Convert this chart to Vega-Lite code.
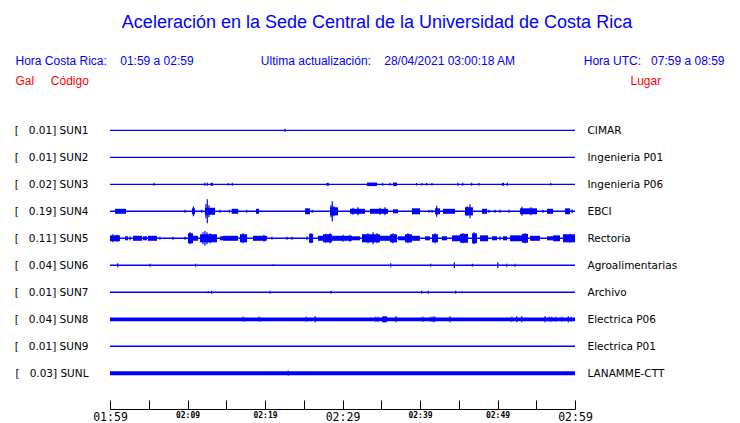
{
  "$schema": "https://vega.github.io/schema/vega-lite/v6.json",
  "width": 465,
  "height": 297,
  "autosize": {"type": "none"},
  "padding": {"left": 110, "top": 103.3, "right": 165, "bottom": 22.7},
  "background": "white",
  "title": {
    "text": "Aceleración en la Sede Central de la Universidad de Costa Rica",
    "font": "Liberation Sans",
    "fontSize": 18,
    "fontWeight": "normal",
    "color": "#0000ff",
    "anchor": "middle",
    "frame": "group",
    "dx": 34.5,
    "offset": 22
  },
  "config": {"view": {"stroke": null}, "axis": {"grid": false}},
  "resolve": {"axis": {"x": "independent", "y": "independent"}},
  "layer": [
    {
      "data": {
        "format": {"parse": {"t": "date:'%H:%M:%S'", "t2": "date:'%H:%M:%S'"}},
        "values": [
          {"s": "SUN1", "t": "01:59:00", "t2": "02:59:00", "amp": 5},
          {"s": "SUN2", "t": "01:59:00", "t2": "02:59:00", "amp": 5},
          {"s": "SUN3", "t": "01:59:00", "t2": "02:59:00", "amp": 5},
          {"s": "SUN4", "t": "01:59:00", "t2": "02:59:00", "amp": 5.5},
          {"s": "SUN5", "t": "01:59:00", "t2": "02:59:00", "amp": 5.5},
          {"s": "SUN6", "t": "01:59:00", "t2": "02:59:00", "amp": 5},
          {"s": "SUN7", "t": "01:59:00", "t2": "02:59:00", "amp": 5},
          {"s": "SUN8", "t": "01:59:00", "t2": "02:59:00", "amp": 14},
          {"s": "SUN9", "t": "01:59:00", "t2": "02:59:00", "amp": 5},
          {"s": "SUNL", "t": "01:59:00", "t2": "02:59:00", "amp": 15},
          {"s": "SUN3", "t": "02:11:58", "t2": "02:12:17", "amp": 11},
          {"s": "SUN3", "t": "02:26:56", "t2": "02:27:15", "amp": 11},
          {"s": "SUN3", "t": "02:32:10", "t2": "02:33:27", "amp": 13},
          {"s": "SUN3", "t": "02:35:31", "t2": "02:36:02", "amp": 13},
          {"s": "SUN3", "t": "02:49:35", "t2": "02:49:50", "amp": 11},
          {"s": "SUN4", "t": "01:59:39", "t2": "02:01:04", "amp": 18.5},
          {"s": "SUN4", "t": "02:09:35", "t2": "02:09:58", "amp": 22},
          {"s": "SUN4", "t": "02:11:15", "t2": "02:12:33", "amp": 26},
          {"s": "SUN4", "t": "02:14:42", "t2": "02:15:33", "amp": 18.5},
          {"s": "SUN4", "t": "02:17:50", "t2": "02:18:14", "amp": 18.5},
          {"s": "SUN4", "t": "02:24:10", "t2": "02:24:48", "amp": 22},
          {"s": "SUN4", "t": "02:27:23", "t2": "02:28:25", "amp": 30},
          {"s": "SUN4", "t": "02:29:58", "t2": "02:31:54", "amp": 18.5},
          {"s": "SUN4", "t": "02:32:33", "t2": "02:34:52", "amp": 18.5},
          {"s": "SUN4", "t": "02:35:31", "t2": "02:36:10", "amp": 15},
          {"s": "SUN4", "t": "02:37:58", "t2": "02:39:00", "amp": 22},
          {"s": "SUN4", "t": "02:40:56", "t2": "02:41:35", "amp": 22},
          {"s": "SUN4", "t": "02:41:58", "t2": "02:43:31", "amp": 18.5},
          {"s": "SUN4", "t": "02:44:48", "t2": "02:45:50", "amp": 30},
          {"s": "SUN4", "t": "02:47:00", "t2": "02:47:39", "amp": 18.5},
          {"s": "SUN4", "t": "02:51:54", "t2": "02:54:06", "amp": 22},
          {"s": "SUN4", "t": "02:55:23", "t2": "02:56:10", "amp": 18.5},
          {"s": "SUN4", "t": "02:57:43", "t2": "02:58:21", "amp": 22},
          {"s": "SUN5", "t": "01:59:00", "t2": "02:00:17", "amp": 22},
          {"s": "SUN5", "t": "02:00:56", "t2": "02:01:19", "amp": 15},
          {"s": "SUN5", "t": "02:01:58", "t2": "02:03:08", "amp": 18.5},
          {"s": "SUN5", "t": "02:03:15", "t2": "02:03:46", "amp": 15},
          {"s": "SUN5", "t": "02:03:54", "t2": "02:05:04", "amp": 18.5},
          {"s": "SUN5", "t": "02:09:04", "t2": "02:09:43", "amp": 37},
          {"s": "SUN5", "t": "02:09:43", "t2": "02:10:21", "amp": 18.5},
          {"s": "SUN5", "t": "02:10:37", "t2": "02:12:48", "amp": 30},
          {"s": "SUN5", "t": "02:13:12", "t2": "02:13:35", "amp": 15},
          {"s": "SUN5", "t": "02:13:35", "t2": "02:15:31", "amp": 18.5},
          {"s": "SUN5", "t": "02:15:46", "t2": "02:16:41", "amp": 30},
          {"s": "SUN5", "t": "02:17:27", "t2": "02:19:15", "amp": 18.5},
          {"s": "SUN5", "t": "02:24:41", "t2": "02:25:12", "amp": 33},
          {"s": "SUN5", "t": "02:25:50", "t2": "02:26:29", "amp": 18.5},
          {"s": "SUN5", "t": "02:26:29", "t2": "02:27:39", "amp": 30},
          {"s": "SUN5", "t": "02:27:39", "t2": "02:29:19", "amp": 18.5},
          {"s": "SUN5", "t": "02:29:19", "t2": "02:30:14", "amp": 18.5},
          {"s": "SUN5", "t": "02:30:14", "t2": "02:31:15", "amp": 15},
          {"s": "SUN5", "t": "02:31:31", "t2": "02:33:50", "amp": 30},
          {"s": "SUN5", "t": "02:33:50", "t2": "02:35:08", "amp": 18.5},
          {"s": "SUN5", "t": "02:35:08", "t2": "02:36:02", "amp": 30},
          {"s": "SUN5", "t": "02:36:10", "t2": "02:37:19", "amp": 15},
          {"s": "SUN5", "t": "02:37:04", "t2": "02:37:58", "amp": 30},
          {"s": "SUN5", "t": "02:37:58", "t2": "02:39:00", "amp": 18.5},
          {"s": "SUN5", "t": "02:39:39", "t2": "02:40:17", "amp": 15},
          {"s": "SUN5", "t": "02:40:33", "t2": "02:41:19", "amp": 30},
          {"s": "SUN5", "t": "02:41:50", "t2": "02:42:29", "amp": 15},
          {"s": "SUN5", "t": "02:43:08", "t2": "02:44:10", "amp": 22},
          {"s": "SUN5", "t": "02:44:10", "t2": "02:45:12", "amp": 33},
          {"s": "SUN5", "t": "02:45:43", "t2": "02:46:21", "amp": 37},
          {"s": "SUN5", "t": "02:46:45", "t2": "02:47:47", "amp": 22},
          {"s": "SUN5", "t": "02:48:17", "t2": "02:48:56", "amp": 15},
          {"s": "SUN5", "t": "02:49:43", "t2": "02:50:14", "amp": 15},
          {"s": "SUN5", "t": "02:50:37", "t2": "02:52:10", "amp": 22},
          {"s": "SUN5", "t": "02:52:10", "t2": "02:52:56", "amp": 33},
          {"s": "SUN5", "t": "02:53:12", "t2": "02:54:29", "amp": 18.5},
          {"s": "SUN5", "t": "02:55:23", "t2": "02:56:10", "amp": 15},
          {"s": "SUN5", "t": "02:56:10", "t2": "02:57:04", "amp": 22},
          {"s": "SUN5", "t": "02:57:27", "t2": "02:59:00", "amp": 30},
          {"s": "SUN8", "t": "02:34:06", "t2": "02:34:45", "amp": 22}
        ]
      },
      "mark": {"type": "rule", "color": "#0000ff", "strokeCap": "butt"},
      "encoding": {
        "x": {
          "field": "t",
          "type": "temporal",
          "scale": {
            "domain": [
              {"year": 1900, "month": 1, "date": 1, "hours": 1, "minutes": 59},
              {"year": 1900, "month": 1, "date": 1, "hours": 2, "minutes": 59}
            ],
            "nice": false
          },
          "axis": {
            "orient": "bottom",
            "offset": 8.7,
            "values": [
              {"year": 1900, "month": 1, "date": 1, "hours": 1, "minutes": 59},
              {"year": 1900, "month": 1, "date": 1, "hours": 2, "minutes": 4},
              {"year": 1900, "month": 1, "date": 1, "hours": 2, "minutes": 9},
              {"year": 1900, "month": 1, "date": 1, "hours": 2, "minutes": 14},
              {"year": 1900, "month": 1, "date": 1, "hours": 2, "minutes": 19},
              {"year": 1900, "month": 1, "date": 1, "hours": 2, "minutes": 24},
              {"year": 1900, "month": 1, "date": 1, "hours": 2, "minutes": 29},
              {"year": 1900, "month": 1, "date": 1, "hours": 2, "minutes": 34},
              {"year": 1900, "month": 1, "date": 1, "hours": 2, "minutes": 39},
              {"year": 1900, "month": 1, "date": 1, "hours": 2, "minutes": 44},
              {"year": 1900, "month": 1, "date": 1, "hours": 2, "minutes": 49},
              {"year": 1900, "month": 1, "date": 1, "hours": 2, "minutes": 54},
              {"year": 1900, "month": 1, "date": 1, "hours": 2, "minutes": 59}
            ],
            "labelExpr": "minutes(datum.value) % 10 == 9 ? timeFormat(datum.value, '%H:%M') : ''",
            "labelFont": "DejaVu Sans Mono",
            "labelFontSize": {"condition": {"test": "minutes(datum.value) % 30 == 29", "value": 11.5}, "value": 8},
            "labelFontWeight": {"condition": {"test": "minutes(datum.value) % 30 == 29", "value": "normal"}, "value": "bold"},
            "labelColor": "black",
            "labelFlush": false,
            "labelOverlap": false,
            "labelBound": false,
            "labelAngle": 0,
            "labelBaseline": "top",
            "labelPadding": 11,
            "tickSize": -9,
            "tickColor": "black",
            "tickWidth": 1,
            "domainColor": "black",
            "domainWidth": 1,
            "grid": false,
            "title": "Lugar",
            "titleFont": "Liberation Sans",
            "titleFontSize": 12,
            "titleFontWeight": "normal",
            "titleColor": "#ff0000",
            "titleAngle": 0,
            "titleAlign": "left",
            "titleBaseline": "alphabetic",
            "titleX": 520,
            "titleY": -324.7
          }
        },
        "x2": {"field": "t2"},
        "y": {
          "field": "s",
          "type": "nominal",
          "scale": {
            "type": "point",
            "padding": 1,
            "domain": ["SUN1", "SUN2", "SUN3", "SUN4", "SUN5", "SUN6", "SUN7", "SUN8", "SUN9", "SUNL"]
          },
          "axis": {
            "orient": "left",
            "domain": false,
            "ticks": false,
            "tickSize": 0,
            "labelPadding": 22,
            "labelAlign": "right",
            "labelBaseline": "middle",
            "labelFont": "DejaVu Sans",
            "labelFontSize": 10.5,
            "labelColor": "black",
            "labelExpr": "['[\u00a0\u00a0\u00a00.01] SUN1','[\u00a0\u00a0\u00a00.01] SUN2','[\u00a0\u00a0\u00a00.02] SUN3','[\u00a0\u00a0\u00a00.19] SUN4','[\u00a0\u00a0\u00a00.11] SUN5','[\u00a0\u00a0\u00a00.04] SUN6','[\u00a0\u00a0\u00a00.01] SUN7','[\u00a0\u00a0\u00a00.04] SUN8','[\u00a0\u00a0\u00a00.01] SUN9','[\u00a0\u00a0\u00a00.03] SUNL'][indexof(['SUN1','SUN2','SUN3','SUN4','SUN5','SUN6','SUN7','SUN8','SUN9','SUNL'], datum.value)]",
            "title": "Hora Costa Rica:\u00a0\u00a0\u00a0\u00a001:59 a 02:59",
            "titleFont": "Liberation Sans",
            "titleFontSize": 12,
            "titleFontWeight": "normal",
            "titleColor": "#0000ff",
            "titleAngle": 0,
            "titleAlign": "left",
            "titleBaseline": "alphabetic",
            "titleX": -95,
            "titleY": -39
          }
        },
        "strokeWidth": {
          "field": "amp",
          "type": "quantitative",
          "scale": {"domain": [0, 100], "range": [0, 27]},
          "legend": null
        }
      }
    },
    {
      "data": {
        "format": {"parse": {"t": "date:'%H:%M:%S'"}},
        "values": [
          {"s": "SUN1", "t": "02:21:35", "amp": 11},
          {"s": "SUN3", "t": "02:04:41", "amp": 11},
          {"s": "SUN3", "t": "02:11:15", "amp": 11},
          {"s": "SUN3", "t": "02:11:33", "amp": 11},
          {"s": "SUN3", "t": "02:14:16", "amp": 9.3},
          {"s": "SUN3", "t": "02:14:47", "amp": 11},
          {"s": "SUN3", "t": "02:34:11", "amp": 11},
          {"s": "SUN3", "t": "02:35:08", "amp": 11},
          {"s": "SUN3", "t": "02:38:34", "amp": 9.3},
          {"s": "SUN3", "t": "02:39:15", "amp": 9.3},
          {"s": "SUN3", "t": "02:39:52", "amp": 9.3},
          {"s": "SUN3", "t": "02:40:33", "amp": 9.3},
          {"s": "SUN3", "t": "02:43:54", "amp": 11},
          {"s": "SUN3", "t": "02:44:31", "amp": 11},
          {"s": "SUN3", "t": "02:45:40", "amp": 11},
          {"s": "SUN3", "t": "02:46:37", "amp": 9.3},
          {"s": "SUN3", "t": "02:50:16", "amp": 11},
          {"s": "SUN3", "t": "02:55:52", "amp": 9.3},
          {"s": "SUN4", "t": "02:08:41", "amp": 11},
          {"s": "SUN4", "t": "02:09:46", "amp": 37},
          {"s": "SUN4", "t": "02:10:50", "amp": 11},
          {"s": "SUN4", "t": "02:11:23", "amp": 52},
          {"s": "SUN4", "t": "02:11:33", "amp": 89},
          {"s": "SUN4", "t": "02:11:46", "amp": 44},
          {"s": "SUN4", "t": "02:13:12", "amp": 11},
          {"s": "SUN4", "t": "02:14:24", "amp": 11},
          {"s": "SUN4", "t": "02:16:38", "amp": 11},
          {"s": "SUN4", "t": "02:25:06", "amp": 11},
          {"s": "SUN4", "t": "02:27:31", "amp": 44},
          {"s": "SUN4", "t": "02:27:41", "amp": 74},
          {"s": "SUN4", "t": "02:27:54", "amp": 37},
          {"s": "SUN4", "t": "02:30:21", "amp": 26},
          {"s": "SUN4", "t": "02:31:00", "amp": 30},
          {"s": "SUN4", "t": "02:33:50", "amp": 26},
          {"s": "SUN4", "t": "02:34:29", "amp": 30},
          {"s": "SUN4", "t": "02:40:10", "amp": 11},
          {"s": "SUN4", "t": "02:40:33", "amp": 11},
          {"s": "SUN4", "t": "02:41:09", "amp": 41},
          {"s": "SUN4", "t": "02:45:04", "amp": 37},
          {"s": "SUN4", "t": "02:45:27", "amp": 52},
          {"s": "SUN4", "t": "02:47:54", "amp": 11},
          {"s": "SUN4", "t": "02:48:41", "amp": 11},
          {"s": "SUN4", "t": "02:49:19", "amp": 11},
          {"s": "SUN4", "t": "02:50:29", "amp": 11},
          {"s": "SUN4", "t": "02:52:10", "amp": 33},
          {"s": "SUN4", "t": "02:53:19", "amp": 30},
          {"s": "SUN4", "t": "02:54:52", "amp": 11},
          {"s": "SUN4", "t": "02:58:37", "amp": 15},
          {"s": "SUN5", "t": "01:59:23", "amp": 30},
          {"s": "SUN5", "t": "01:59:54", "amp": 26},
          {"s": "SUN5", "t": "02:01:35", "amp": 15},
          {"s": "SUN5", "t": "02:05:27", "amp": 11},
          {"s": "SUN5", "t": "02:07:08", "amp": 11},
          {"s": "SUN5", "t": "02:08:41", "amp": 11},
          {"s": "SUN5", "t": "02:09:19", "amp": 44},
          {"s": "SUN5", "t": "02:11:00", "amp": 44},
          {"s": "SUN5", "t": "02:11:15", "amp": 55},
          {"s": "SUN5", "t": "02:11:31", "amp": 44},
          {"s": "SUN5", "t": "02:11:54", "amp": 37},
          {"s": "SUN5", "t": "02:16:10", "amp": 37},
          {"s": "SUN5", "t": "02:18:52", "amp": 26},
          {"s": "SUN5", "t": "02:19:54", "amp": 11},
          {"s": "SUN5", "t": "02:21:50", "amp": 11},
          {"s": "SUN5", "t": "02:22:29", "amp": 11},
          {"s": "SUN5", "t": "02:24:25", "amp": 15},
          {"s": "SUN5", "t": "02:24:56", "amp": 37},
          {"s": "SUN5", "t": "02:26:52", "amp": 33},
          {"s": "SUN5", "t": "02:27:23", "amp": 37},
          {"s": "SUN5", "t": "02:29:04", "amp": 26},
          {"s": "SUN5", "t": "02:29:58", "amp": 26},
          {"s": "SUN5", "t": "02:32:17", "amp": 37},
          {"s": "SUN5", "t": "02:32:56", "amp": 44},
          {"s": "SUN5", "t": "02:33:27", "amp": 37},
          {"s": "SUN5", "t": "02:35:31", "amp": 37},
          {"s": "SUN5", "t": "02:37:27", "amp": 37},
          {"s": "SUN5", "t": "02:40:56", "amp": 37},
          {"s": "SUN5", "t": "02:44:33", "amp": 37},
          {"s": "SUN5", "t": "02:45:58", "amp": 44},
          {"s": "SUN5", "t": "02:49:19", "amp": 15},
          {"s": "SUN5", "t": "02:52:33", "amp": 37},
          {"s": "SUN5", "t": "02:58:21", "amp": 33},
          {"s": "SUN6", "t": "02:00:00", "amp": 15},
          {"s": "SUN6", "t": "02:04:10", "amp": 11},
          {"s": "SUN6", "t": "02:10:03", "amp": 11},
          {"s": "SUN6", "t": "02:20:04", "amp": 7.4},
          {"s": "SUN6", "t": "02:35:13", "amp": 15},
          {"s": "SUN6", "t": "02:40:23", "amp": 11},
          {"s": "SUN6", "t": "02:43:26", "amp": 22},
          {"s": "SUN6", "t": "02:45:45", "amp": 11},
          {"s": "SUN6", "t": "02:49:02", "amp": 22},
          {"s": "SUN6", "t": "02:50:11", "amp": 11},
          {"s": "SUN6", "t": "02:51:16", "amp": 11},
          {"s": "SUN7", "t": "02:11:41", "amp": 7.4},
          {"s": "SUN7", "t": "02:12:07", "amp": 11},
          {"s": "SUN7", "t": "02:19:39", "amp": 11},
          {"s": "SUN7", "t": "02:27:31", "amp": 11},
          {"s": "SUN7", "t": "02:39:13", "amp": 11},
          {"s": "SUN7", "t": "02:40:04", "amp": 11},
          {"s": "SUN7", "t": "02:43:36", "amp": 11},
          {"s": "SUN7", "t": "02:44:28", "amp": 7.4},
          {"s": "SUN8", "t": "02:16:12", "amp": 18.5},
          {"s": "SUN8", "t": "02:18:16", "amp": 18.5},
          {"s": "SUN8", "t": "02:24:20", "amp": 18.5},
          {"s": "SUN8", "t": "02:25:29", "amp": 22},
          {"s": "SUN8", "t": "02:33:17", "amp": 18.5},
          {"s": "SUN8", "t": "02:33:35", "amp": 18.5},
          {"s": "SUN8", "t": "02:35:54", "amp": 22},
          {"s": "SUN8", "t": "02:39:23", "amp": 18.5},
          {"s": "SUN8", "t": "02:40:23", "amp": 18.5},
          {"s": "SUN8", "t": "02:40:43", "amp": 22},
          {"s": "SUN8", "t": "02:40:56", "amp": 18.5},
          {"s": "SUN8", "t": "02:42:52", "amp": 22},
          {"s": "SUN8", "t": "02:50:50", "amp": 18.5},
          {"s": "SUN8", "t": "02:51:29", "amp": 22},
          {"s": "SUN8", "t": "02:52:07", "amp": 22},
          {"s": "SUN8", "t": "02:55:08", "amp": 22},
          {"s": "SUN8", "t": "02:55:41", "amp": 18.5},
          {"s": "SUN8", "t": "02:56:00", "amp": 18.5},
          {"s": "SUN8", "t": "02:56:33", "amp": 18.5},
          {"s": "SUN8", "t": "02:57:17", "amp": 18.5},
          {"s": "SUN8", "t": "02:58:08", "amp": 22},
          {"s": "SUN8", "t": "02:58:29", "amp": 18.5},
          {"s": "SUNL", "t": "02:22:00", "amp": 18.5}
        ]
      },
      "mark": {"type": "tick", "orient": "vertical", "color": "#0000ff", "thickness": 1.2, "opacity": 1},
      "encoding": {
        "x": {
          "field": "t",
          "type": "temporal",
          "axis": {
            "orient": "top",
            "values": [
              {"year": 1900, "month": 1, "date": 1, "hours": 2, "minutes": 34, "seconds": 48}
            ],
            "labelExpr": "'Ultima actualización:\u00a0\u00a0\u00a0\u00a028/04/2021 03:00:18 AM'",
            "labelFont": "Liberation Sans",
            "labelFontSize": 12,
            "labelColor": "#0000ff",
            "labelAlign": "center",
            "labelBaseline": "alphabetic",
            "labelPadding": 39,
            "labelLimit": 0,
            "labelFlush": false,
            "labelBound": false,
            "labelOverlap": false,
            "labelAngle": 0,
            "ticks": false,
            "tickSize": 0,
            "domain": false,
            "grid": false,
            "title": "Gal\u00a0\u00a0\u00a0\u00a0\u00a0Código",
            "titleFont": "Liberation Sans",
            "titleFontSize": 12,
            "titleFontWeight": "normal",
            "titleColor": "#ff0000",
            "titleAngle": 0,
            "titleAlign": "left",
            "titleBaseline": "alphabetic",
            "titleX": -95,
            "titleY": -19
          }
        },
        "y": {
          "field": "s",
          "type": "nominal",
          "axis": {
            "orient": "right",
            "domain": false,
            "ticks": false,
            "tickSize": 0,
            "labelPadding": 12,
            "labelAlign": "left",
            "labelBaseline": "middle",
            "labelFont": "DejaVu Sans",
            "labelFontSize": 10.5,
            "labelColor": "black",
            "labelExpr": "['CIMAR','Ingenieria P01','Ingenieria P06','EBCI','Rectoria','Agroalimentarias','Archivo','Electrica P06','Electrica P01','LANAMME-CTT'][indexof(['SUN1','SUN2','SUN3','SUN4','SUN5','SUN6','SUN7','SUN8','SUN9','SUNL'], datum.value)]",
            "title": "Hora UTC:\u00a0\u00a0\u00a007:59 a 08:59",
            "titleFont": "Liberation Sans",
            "titleFontSize": 12,
            "titleFontWeight": "normal",
            "titleColor": "#0000ff",
            "titleAngle": 0,
            "titleAlign": "right",
            "titleBaseline": "alphabetic",
            "titleX": 149,
            "titleY": -39
          }
        },
        "size": {
          "field": "amp",
          "type": "quantitative",
          "scale": {"domain": [0, 100], "range": [0, 27]},
          "legend": null
        }
      }
    }
  ]
}
